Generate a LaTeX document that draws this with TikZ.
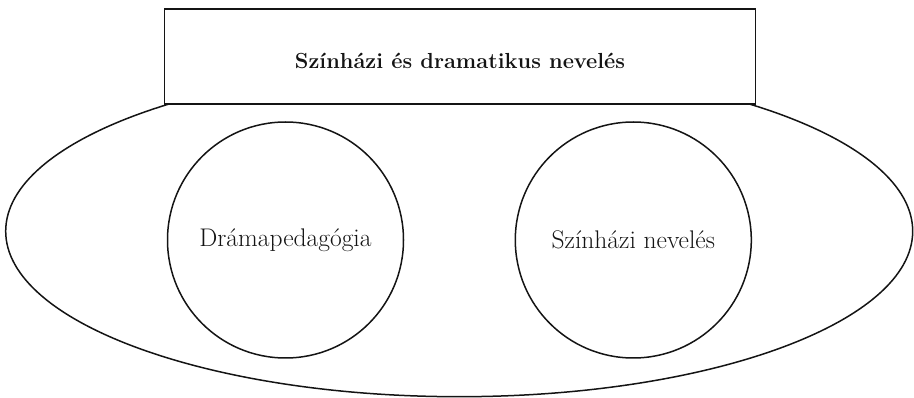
\documentclass[tikz,border=0pt]{standalone}
\usepackage{tikz}
\usetikzlibrary{shapes.geometric}

\begin{document}
\begin{tikzpicture}[x=1pt,y=-1pt,line width=1.5pt,color={black!92},
                    kor/.style={circle,draw,minimum size=236pt,inner sep=0pt,
                                font=\fontsize{25.5}{30}\selectfont},
                    cim/.style={rectangle,draw,fill=white,minimum width=591pt,
                                minimum height=95pt,inner sep=0pt,text height=23pt,
                                font=\bfseries\fontsize{21.8}{26}\selectfont}]
    \useasboundingbox (0,0) rectangle (914,398);
    \node[ellipse,draw,minimum width=907pt,minimum height=331pt,inner sep=0pt]
        (nevelo) at (459.2,231.2) {};
    \node[cim] (fej) at (460,56.7) {Színházi és dramatikus nevelés};
    \node[kor] (drama) at (285.5,240) {Drámapedagógia};
    \node[kor] (szinhaz) at (633.3,240) {Színházi nevelés};
\end{tikzpicture}
\end{document}
